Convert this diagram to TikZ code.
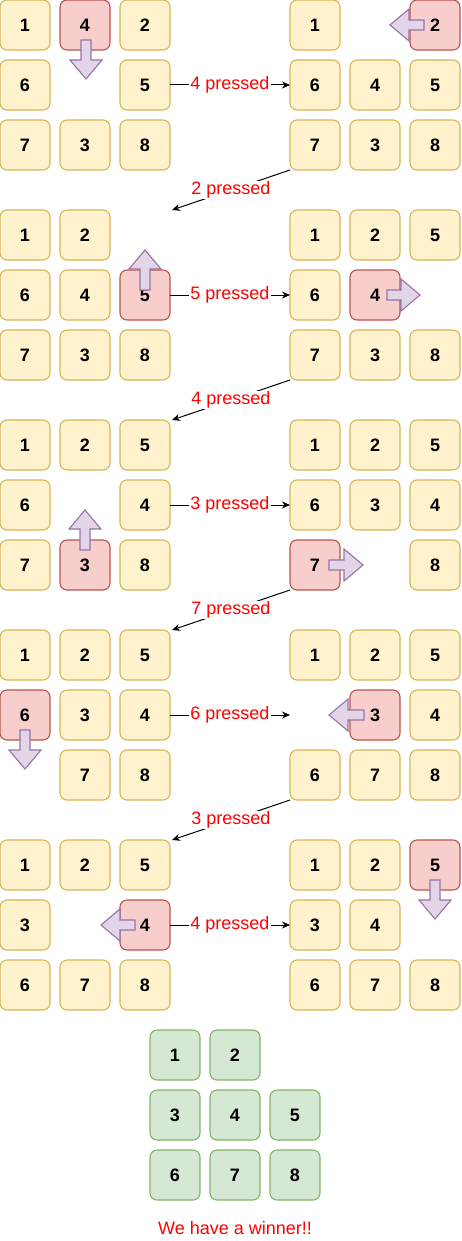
\documentclass[tikz,border=0pt]{standalone}
\usepackage{fontspec}
\setmainfont{Liberation Sans}
\usetikzlibrary{arrows.meta}

\definecolor{tileFill}{HTML}{FFF2CC}
\definecolor{tileLine}{HTML}{D6B656}
\definecolor{movedFill}{HTML}{F8CECC}
\definecolor{movedLine}{HTML}{B85450}
\definecolor{solvedFill}{HTML}{D5E8D4}
\definecolor{solvedLine}{HTML}{82B366}
\definecolor{arrowFill}{HTML}{E1D5E7}
\definecolor{arrowLine}{HTML}{9673A6}
\definecolor{pressRed}{HTML}{FF0000}

% one 3x3 board: [style]{name}{left}{top}{number/column/row,...}
\newcommand\Puzzle[5][Tile]{%
    \foreach \num/\col/\row in {#5}
        \node [#1] (#2-\num) at ({#3+25+60*\col}, {#4+25+60*\row}) {\num};}
% block arrow: {x}{y}{angle}{length}
\newcommand\MoveArrow[4]{%
    \draw [BlockArrow, shift={(#1,#2)}, rotate=#3]
        (0,-5) -- ({#4-19},-5) -- ({#4-19},-16) -- (#4,0)
        -- ({#4-19},16) -- ({#4-19},5) -- (0,5) -- cycle;}

\begin{document}
\begin{tikzpicture}[
                x=1pt, y=-1pt,
                Tile/.style={draw=tileLine, fill=tileFill, line width=1.1pt, rounded corners=7pt,
                    minimum width=50pt, minimum height=50pt, inner sep=0pt, outer sep=0pt,
                    font=\bfseries\fontsize{18}{20}\selectfont},
                Moved/.style={Tile, draw=movedLine, fill=movedFill},
                Solved/.style={Tile, draw=solvedLine, fill=solvedFill},
                BlockArrow/.style={draw=arrowLine, fill=arrowFill, line width=1.1pt, line join=miter},
                PressLine/.style={draw, line width=1pt, -{Stealth[length=8pt, width=7pt]}},
                PressLabel/.style={midway, fill=white, inner sep=1pt, text=pressRed,
                    font=\fontsize{18}{20}\selectfont},
            ]
            \useasboundingbox (0,0) rectangle (461,1241);

            % 4 pressed
            \Puzzle{s1l}{0}{0}{1/0/0, 2/2/0, 6/0/1, 5/2/1, 7/0/2, 3/1/2, 8/2/2}
            \node [Moved] (s1l-4) at (85,25) {4};
            \MoveArrow{86}{40}{-90}{39}
            \Puzzle{s1r}{290}{0}{1/0/0, 6/0/1, 4/1/1, 5/2/1, 7/0/2, 3/1/2, 8/2/2}
            \node [Moved] (s1r-2) at (435,25) {2};
            \MoveArrow{424}{25}{180}{34}

            % 5 pressed
            \Puzzle{s2l}{0}{210}{1/0/0, 2/1/0, 6/0/1, 4/1/1, 7/0/2, 3/1/2, 8/2/2}
            \node [Moved] (s2l-5) at (145,295) {5};
            \MoveArrow{145}{290}{90}{40}
            \Puzzle{s2r}{290}{210}{1/0/0, 2/1/0, 5/2/0, 6/0/1, 7/0/2, 3/1/2, 8/2/2}
            \node [Moved] (s2r-4) at (375,295) {4};
            \MoveArrow{387}{295}{0}{33}

            % 3 pressed
            \Puzzle{s3l}{0}{420}{1/0/0, 2/1/0, 5/2/0, 6/0/1, 4/2/1, 7/0/2, 8/2/2}
            \node [Moved] (s3l-3) at (85,565) {3};
            \MoveArrow{85}{550}{90}{40}
            \Puzzle{s3r}{290}{420}{1/0/0, 2/1/0, 5/2/0, 6/0/1, 3/1/1, 4/2/1, 8/2/2}
            \node [Moved] (s3r-7) at (315,565) {7};
            \MoveArrow{329}{565}{0}{34}

            % 6 pressed
            \Puzzle{s4l}{0}{630}{1/0/0, 2/1/0, 5/2/0, 3/1/1, 4/2/1, 7/1/2, 8/2/2}
            \node [Moved] (s4l-6) at (25,715) {6};
            \MoveArrow{25}{730}{-90}{39}
            \Puzzle{s4r}{290}{630}{1/0/0, 2/1/0, 5/2/0, 4/2/1, 6/0/2, 7/1/2, 8/2/2}
            \node [Moved] (s4r-3) at (375,715) {3};
            \MoveArrow{364}{715}{180}{35}

            % 4 pressed
            \Puzzle{s5l}{0}{840}{1/0/0, 2/1/0, 5/2/0, 3/0/1, 6/0/2, 7/1/2, 8/2/2}
            \node [Moved] (s5l-4) at (145,925) {4};
            \MoveArrow{135}{925}{180}{34}
            \Puzzle{s5r}{290}{840}{1/0/0, 2/1/0, 3/0/1, 4/1/1, 6/0/2, 7/1/2, 8/2/2}
            \node [Moved] (s5r-5) at (435,865) {5};
            \MoveArrow{435}{880}{-90}{39}

            % solved
            \Puzzle[Solved]{win}{150}{1030}{1/0/0, 2/1/0, 3/0/1, 4/1/1, 5/2/1, 6/0/2, 7/1/2, 8/2/2}
            \node [text=pressRed, font=\fontsize{18}{20}\selectfont] (winner) at (235,1228) {We have a winner!!};

            \coordinate (s2l-in) at (172,210);
            \coordinate (s3l-in) at (172,420);
            \coordinate (s4l-in) at (172,630);
            \coordinate (s5l-in) at (172,840);
            \coordinate (s4r-gap) at (290,715);

            \draw [PressLine] (s1l-5) -- node [PressLabel] {4 pressed} (s1r-6);
            \draw [PressLine] (s1r-7.south west) -- node [PressLabel] {2 pressed} (s2l-in);
            \draw [PressLine] (s2l-5) -- node [PressLabel] {5 pressed} (s2r-6);
            \draw [PressLine] (s2r-7.south west) -- node [PressLabel] {4 pressed} (s3l-in);
            \draw [PressLine] (s3l-4) -- node [PressLabel] {3 pressed} (s3r-6);
            \draw [PressLine] (s3r-7.south west) -- node [PressLabel] {7 pressed} (s4l-in);
            \draw [PressLine] (s4l-4) -- node [PressLabel] {6 pressed} (s4r-gap);
            \draw [PressLine] (s4r-6.south west) -- node [PressLabel] {3 pressed} (s5l-in);
            \draw [PressLine] (s5l-4) -- node [PressLabel] {4 pressed} (s5r-3);
        \end{tikzpicture}
\end{document}
